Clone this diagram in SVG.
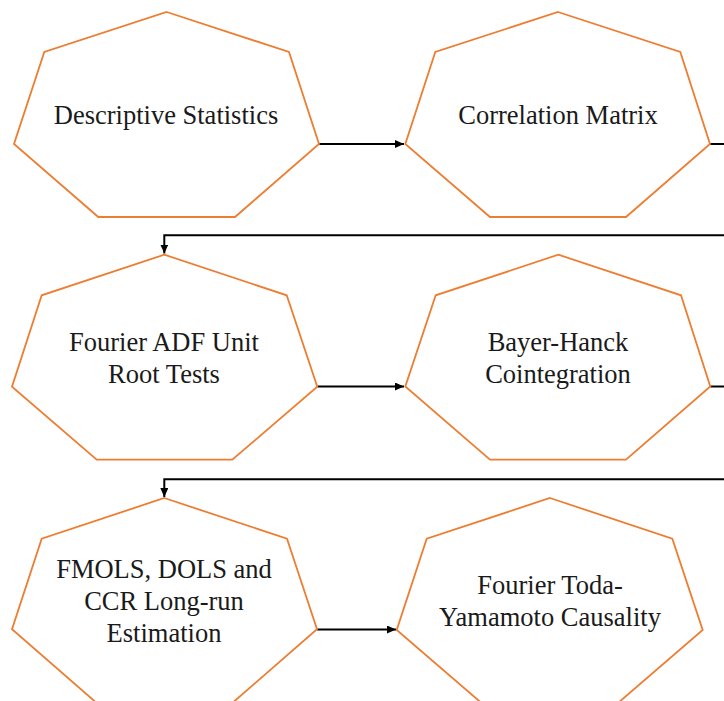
<svg xmlns="http://www.w3.org/2000/svg" width="724" height="701" viewBox="0 0 724 701">
<style>
.hept{fill:#ffffff;stroke:#ED7D31;stroke-width:1.8;stroke-linejoin:miter}
.lbl{font-family:"Liberation Serif","Times New Roman",serif;font-size:26.5px;fill:#1a1a1a;text-anchor:middle}
.conn{fill:none;stroke:#000000;stroke-width:2}
</style>
<defs>
<marker id="arr" markerUnits="userSpaceOnUse" markerWidth="10" markerHeight="8" refX="9" refY="4" orient="auto">
<path d="M0,0 L9,4 L0,8 Z" fill="#000000"/>
</marker>
</defs>
<rect width="724" height="701" fill="#ffffff"/>
<g id="connectors">
<path class="conn" d="M319,144 H404" marker-end="url(#arr)"/>
<path class="conn" d="M710,144 H724"/>
<path class="conn" d="M724,235.3 H164.3 V253.5" marker-end="url(#arr)"/>
<path class="conn" d="M317.3,386.5 H404" marker-end="url(#arr)"/>
<path class="conn" d="M710.3,386.5 H724"/>
<path class="conn" d="M724,479.3 H164.3 V497" marker-end="url(#arr)"/>
<path class="conn" d="M317,629.5 H396" marker-end="url(#arr)"/>
</g>
<g id="n1">
<polygon class="hept" points="166.7,12 289,52 319,144 235,217 98.3,217 14,144 44.3,52"/>
<text class="lbl" x="166" y="124.3">Descriptive Statistics</text>
</g>
<g id="n2">
<polygon class="hept" points="558,12 680.3,52 710,144 626,217 490,217 405.3,144 435.3,52"/>
<text class="lbl" x="558" y="124">Correlation Matrix</text>
</g>
<g id="n3">
<polygon class="hept" points="164.3,254.7 286.7,295.3 317.3,386.7 232.3,459.7 96.7,459.7 12,386.7 41.7,295.3"/>
<text class="lbl" x="164" y="350.5">Fourier ADF Unit</text>
<text class="lbl" x="164" y="383.3">Root Tests</text>
</g>
<g id="n4">
<polygon class="hept" points="558.3,254.7 681,295.3 710.3,386.5 626,459.7 490,459.7 405.3,386.5 435.7,295.3"/>
<text class="lbl" x="558" y="351">Bayer-Hanck</text>
<text class="lbl" x="558" y="383.3">Cointegration</text>
</g>
<g id="n5">
<polygon class="hept" points="164.3,498 287,538.7 317,629.3 232.3,703 96.7,703 12,629.3 41.7,538.7"/>
<text class="lbl" x="164" y="578.3">FMOLS, DOLS and</text>
<text class="lbl" x="164" y="610">CCR Long-run</text>
<text class="lbl" x="164" y="641.7">Estimation</text>
</g>
<g id="n6">
<polygon class="hept" points="550,498 672.3,538.7 702.7,630 618,703 481.5,703 396.7,630 426.7,538.7"/>
<text class="lbl" x="550" y="594.3">Fourier Toda-</text>
<text class="lbl" x="550" y="626">Yamamoto Causality</text>
</g>
</svg>
